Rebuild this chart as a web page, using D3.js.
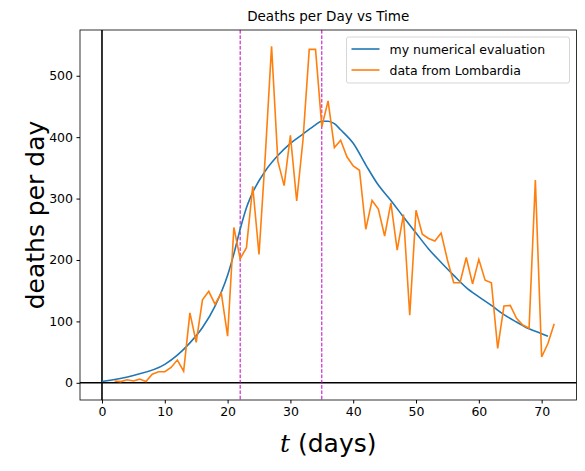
<!DOCTYPE html>
<html><head><meta charset="utf-8">
<script src="https://cdn.jsdelivr.net/npm/d3@7"></script>
<style>body{margin:0;background:#fff}text{font-family:"DejaVu Sans",sans-serif}</style>
</head><body><svg id="chart" width="585" height="471"></svg>
<script>
const dataDays = d3.range(2, 73);
const dataDeaths = [3,2,5,3,6,2,14,18,18,25,37,19,114,66,135,149,128,146,76,253,202,220,320,209,370,548,361,321,403,296,395,543,543,417,459,383,395,368,353,346,250,297,283,239,293,216,274,110,281,242,235,231,244,200,163,163,204,161,201,167,163,56,125,126,105,94,89,330,42,64,96];
const modelDays = [0,5,10,12,14,16,18,20,21,22,23,24,26,28,30,32,34,35,36,37,38,40,42,44,46,48,50,52,54,56,58,60,62,64,66,68,70,71];
const modelDeaths = [2,12,30,45,65,90,125,175,210,250,285,310,345,370,390,405,420,426,426,422,412,390,355,322,297,270,244,218,196,175,155,140,126,111,99,88,80,76];
const markerDays = [22, 35];
const xTicks = [0,10,20,30,40,50,60,70];
const yTicks = [0,100,200,300,400,500];

const svg = d3.select('#chart');
const pL = 80, pR = 576.5, pT = 30, pB = 400;
const x = d3.scaleLinear().domain([-3.5, 75.55]).range([pL, pR]);
const y = d3.scaleLinear().domain([-28, 574.5]).range([pB, pT]);

svg.append('g').attr('transform', `translate(0,${pB})`)
  .call(d3.axisBottom(x).tickValues(xTicks).tickSize(3.5).tickPadding(3.5))
  .call(g => g.select('.domain').remove())
  .selectAll('text').attr('font-size', 12.5).attr('fill', '#000');
svg.append('g').attr('transform', `translate(${pL},0)`)
  .call(d3.axisLeft(y).tickValues(yTicks).tickSize(3.5).tickPadding(3.5))
  .call(g => g.select('.domain').remove())
  .selectAll('text').attr('font-size', 12.5).attr('fill', '#000');

// zero lines
svg.append('line').attr('x1', x(0)).attr('x2', x(0)).attr('y1', pT).attr('y2', pB)
  .attr('stroke', '#000').attr('stroke-width', 1.6);
svg.append('line').attr('x1', pL).attr('x2', pR).attr('y1', y(0)).attr('y2', y(0))
  .attr('stroke', '#000').attr('stroke-width', 1.6);

svg.selectAll('.marker').data(markerDays).enter().append('line')
  .attr('x1', d => x(d)).attr('x2', d => x(d)).attr('y1', pT).attr('y2', pB)
  .attr('stroke', '#bf00bf').attr('stroke-width', 1).attr('stroke-dasharray', '3.7,1.6');

const model = modelDays.map((d, i) => [d, modelDeaths[i]]);
svg.append('path').datum(model).attr('fill', 'none').attr('stroke', '#1f77b4').attr('stroke-width', 1.6)
  .attr('d', d3.line().x(d => x(d[0])).y(d => y(d[1])).curve(d3.curveMonotoneX));

const data = dataDays.map((d, i) => [d, dataDeaths[i]]);
svg.append('path').datum(data).attr('fill', 'none').attr('stroke', '#ff7f0e').attr('stroke-width', 1.6)
  .attr('d', d3.line().x(d => x(d[0])).y(d => y(d[1])));

svg.append('rect').attr('x', pL).attr('y', pT).attr('width', pR - pL).attr('height', pB - pT)
  .attr('fill', 'none').attr('stroke', '#000').attr('stroke-width', 0.8);

// legend
const lg = svg.append('g').attr('transform', 'translate(346.5,37)');
lg.append('rect').attr('width', 223).attr('height', 46).attr('rx', 2)
  .attr('fill', '#fff').attr('fill-opacity', 0.8).attr('stroke', '#ccc').attr('stroke-width', 0.8);
[['my numerical evaluation', '#1f77b4'], ['data from Lombardia', '#ff7f0e']].forEach(([t, c], i) => {
  const yy = 12 + i * 21;
  lg.append('line').attr('x1', 5).attr('x2', 33).attr('y1', yy).attr('y2', yy).attr('stroke', c).attr('stroke-width', 1.6);
  lg.append('text').attr('x', 43).attr('y', yy + 4.5).attr('font-size', 12.5).text(t);
});

svg.append('text').attr('x', (pL + pR) / 2).attr('y', 21).attr('text-anchor', 'middle')
  .attr('font-size', 13.5).text('Deaths per Day vs Time');
const xl = svg.append('text').attr('x', (pL + pR) / 2).attr('y', 452).attr('text-anchor', 'middle').attr('font-size', 25);
xl.append('tspan').attr('font-style', 'italic').attr('font-family', 'DejaVu Serif').text('t');
xl.append('tspan').text(' (days)');
svg.append('text').attr('transform', `translate(44,${(pT + pB) / 2}) rotate(-90)`).attr('text-anchor', 'middle')
  .attr('font-size', 25).text('deaths per day');
</script></body></html>
